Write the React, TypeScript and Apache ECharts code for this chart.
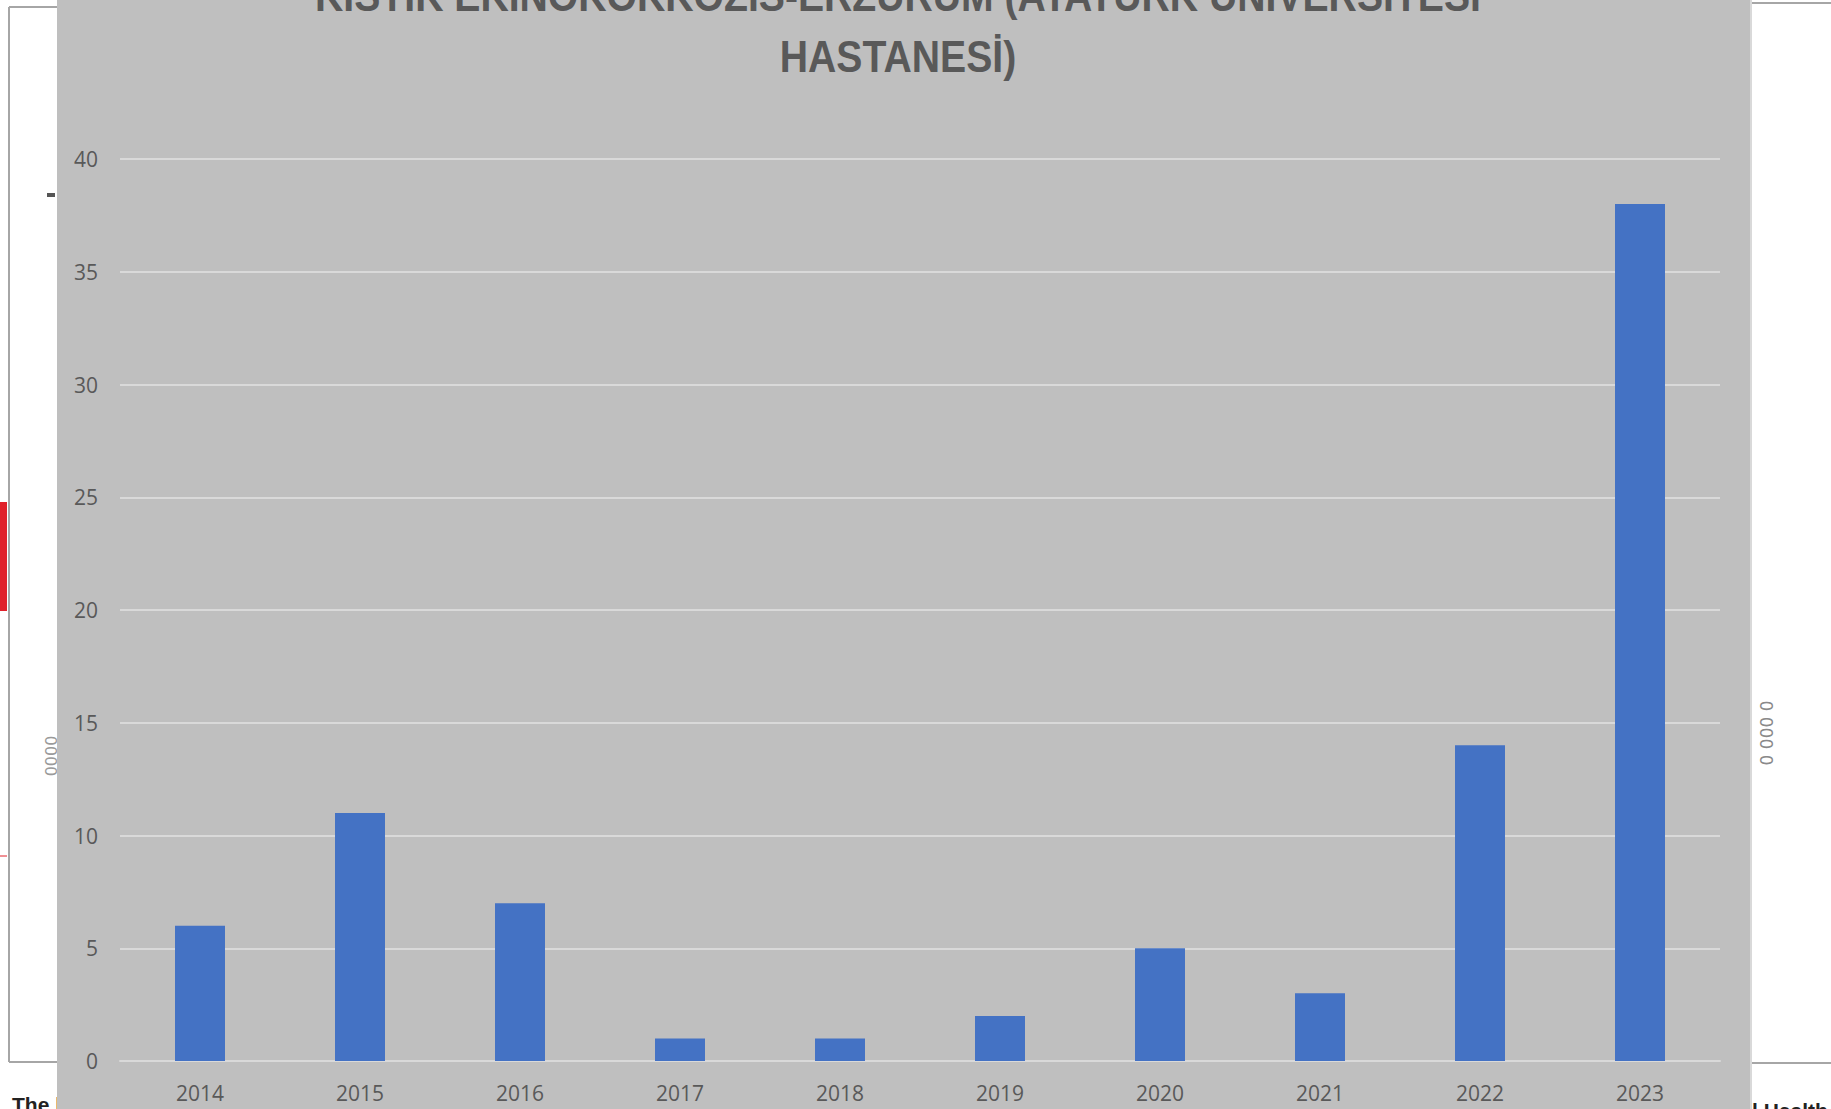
import React, { useEffect, useRef } from "react";
import * as echarts from "echarts";

const years = ["2014", "2015", "2016", "2017", "2018", "2019", "2020", "2021", "2022", "2023"];
const cases = [6, 11, 7, 1, 1, 2, 5, 3, 14, 38];
const titleText = "KİSTİK EKİNOKOKKOZİS-ERZURUM (ATATÜRK ÜNİVERSİTESİ\nHASTANESİ)";

export default function App() {
  const ref = useRef<HTMLDivElement>(null);
  useEffect(() => {
    if (!ref.current) return;
    const chart = echarts.init(ref.current, null, { renderer: "svg" });
    const frame = "#a6a6a6";
    chart.setOption({
      animation: false,
      backgroundColor: "#ffffff",
      graphic: [
        { type: "rect", z: -20, silent: true, shape: { x: 57, y: 0, width: 1693, height: 1109 }, style: { fill: "#bfbfbf" } },
        {
          type: "text", z: 5, x: 898, y: -35, scaleX: 0.89, scaleY: 1,
          style: {
            text: titleText,
            fontFamily: "'Liberation Sans', sans-serif",
            fontWeight: "bold",
            fontSize: 44,
            lineHeight: 61,
            fill: "#595959",
            align: "center",
            verticalAlign: "top",
          },
        },
        // left background frame
        { type: "line", z: -30, shape: { x1: 9, y1: 7, x2: 9, y2: 1062 }, style: { stroke: frame, lineWidth: 2 } },
        { type: "line", z: -30, shape: { x1: 9, y1: 7, x2: 57, y2: 7 }, style: { stroke: frame, lineWidth: 2 } },
        { type: "line", z: -30, shape: { x1: 9, y1: 1062, x2: 57, y2: 1062 }, style: { stroke: frame, lineWidth: 2 } },
        { type: "rect", z: -30, shape: { x: 0, y: 502, width: 7, height: 109 }, style: { fill: "#e0202a" } },
        { type: "line", z: -30, shape: { x1: 0, y1: 856, x2: 7, y2: 856 }, style: { stroke: "#e0202a", lineWidth: 1 } },
        { type: "rect", z: -30, shape: { x: 47, y: 193, width: 8, height: 4 }, style: { fill: "#555555" } },
        {
          type: "text", z: -30, x: 51, y: 756, rotation: Math.PI / 2,
          style: { text: "0000", fontSize: 16, fill: "#9a9a9a", align: "center", verticalAlign: "middle", fontFamily: "DejaVu Sans" },
        },
        {
          type: "text", z: -30, x: 12, y: 1094,
          style: { text: "The b", fontSize: 21, fontWeight: "bold", fill: "#222222", fontFamily: "Liberation Sans" },
        },
        // right background frame
        { type: "line", z: -30, shape: { x1: 1750, y1: 3, x2: 1831, y2: 3 }, style: { stroke: frame, lineWidth: 2 } },
        { type: "line", z: -30, shape: { x1: 1750, y1: 1063, x2: 1831, y2: 1063 }, style: { stroke: frame, lineWidth: 2 } },
        { type: "line", z: -30, shape: { x1: 1751, y1: 0, x2: 1751, y2: 1109 }, style: { stroke: "#d9d9d9", lineWidth: 2 } },
        {
          type: "text", z: -30, x: 1766, y: 733, rotation: -Math.PI / 2,
          style: { text: "0 000 0", fontSize: 17, fill: "#8a8a8a", align: "center", verticalAlign: "middle", fontFamily: "DejaVu Sans" },
        },
        {
          type: "text", z: -30, x: 1752, y: 1100,
          style: { text: "l Health", fontSize: 21, fontWeight: "bold", fill: "#222222", fontFamily: "Liberation Sans" },
        },
      ],
      grid: { left: 120, right: 111, top: 159, bottom: 48, containLabel: false },
      xAxis: {
        type: "category",
        data: years,
        axisLine: { show: true, lineStyle: { color: "#d9d9d9", width: 2 } },
        axisTick: { show: false },
        axisLabel: { color: "#595959", fontSize: 21, fontFamily: "'Open Sans', sans-serif", margin: 21 },
      },
      yAxis: {
        type: "value",
        min: 0,
        max: 40,
        interval: 5,
        axisLine: { show: false },
        axisTick: { show: false },
        axisLabel: { color: "#595959", fontSize: 21, fontFamily: "'Open Sans', sans-serif", margin: 22 },
        splitLine: { lineStyle: { color: "#d9d9d9", width: 2 } },
      },
      series: [
        {
          type: "bar",
          data: cases,
          barWidth: 50,
          itemStyle: { color: "#4472c4" },
        },
      ],
    });
    return () => chart.dispose();
  }, []);
  return (
    <div style={{ position: "fixed", left: 0, top: 0, width: 1831, height: 1109, overflow: "hidden" }}>
      <div ref={ref} style={{ width: 1831, height: 1109 }} />
    </div>
  );
}
